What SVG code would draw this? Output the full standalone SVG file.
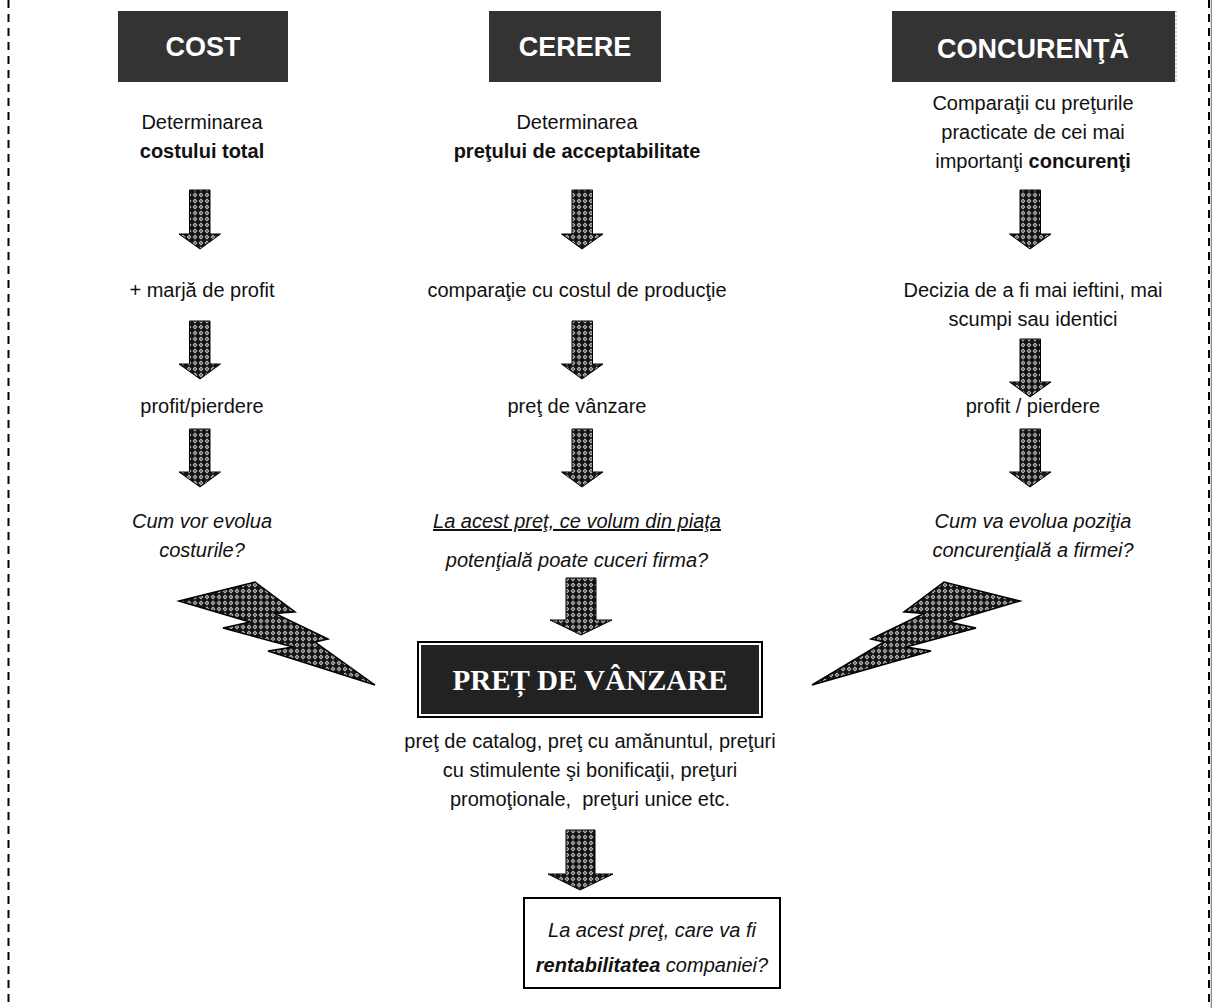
<svg xmlns="http://www.w3.org/2000/svg" width="1212" height="1008" viewBox="0 0 1212 1008">
<defs>
<pattern id="chk" width="6" height="6" patternUnits="userSpaceOnUse">
<rect width="6" height="6" fill="#151515"/>
<polygon points="3,0.6 5.4,3 3,5.4 0.6,3" fill="#c4c4c4"/>
<circle cx="3" cy="3" r="0.8" fill="#151515"/>
</pattern>
<style>
.t{font-family:"Liberation Sans",Arial,sans-serif;font-size:20px;fill:#111;text-anchor:middle}
.b{font-weight:bold}
.i{font-style:italic}
.h{font-family:"Liberation Sans",Arial,sans-serif;font-size:27px;font-weight:bold;fill:#fff;text-anchor:middle}
.hb{fill:#333}
.ar{fill:url(#chk);stroke:#000;stroke-width:1}
.bolt{fill:url(#chk);stroke:#000;stroke-width:1.5;stroke-linejoin:miter}
</style>
</defs>
<rect width="1212" height="1008" fill="#fff"/>
<g id="border">
<line x1="8.5" y1="0" x2="8.5" y2="1008" stroke="#000" stroke-width="2" stroke-dasharray="8 6"/>
<line x1="1209" y1="0" x2="1209" y2="1008" stroke="#000" stroke-width="2" stroke-dasharray="8 6"/>
<line x1="1211.5" y1="0" x2="1211.5" y2="1008" stroke="#888" stroke-width="1.5"/>
</g>
<g id="cost">
<rect class="hb" x="118" y="11" width="170" height="71"/>
<text class="h" x="203" y="56">COST</text>
</g>
<g id="cerere">
<rect class="hb" x="489" y="11" width="172" height="71"/>
<text class="h" x="575" y="56">CERERE</text>
</g>
<g id="concurenta">
<rect class="hb" x="892" y="11" width="283" height="71"/>
<line x1="1176" y1="11" x2="1176" y2="82" stroke="#999" stroke-width="1" stroke-dasharray="2 2"/>
<text class="h" x="1033" y="58">CONCURENŢĂ</text>
</g>
<g id="cost-texts">
<text class="t" x="202" y="129">Determinarea</text>
<text class="t b" x="202" y="158">costului total</text>
<text class="t" x="202" y="297">+ marjă de profit</text>
<text class="t" x="202" y="413">profit/pierdere</text>
<text class="t i" x="202" y="528">Cum vor evolua</text>
<text class="t i" x="202" y="557">costurile?</text>
</g>
<g id="cerere-texts">
<text class="t" x="577" y="129">Determinarea</text>
<text class="t b" x="577" y="158">preţului de acceptabilitate</text>
<text class="t" x="577" y="297">comparaţie cu costul de producţie</text>
<text class="t" x="577" y="413">preţ de vânzare</text>
<text class="t i" x="577" y="528" text-decoration="underline">La acest preţ, ce volum din piaţa</text>
<text class="t i" x="577" y="567">potenţială poate cuceri firma?</text>
</g>
<g id="concurenta-texts">
<text class="t" x="1033" y="110">Comparaţii cu preţurile</text>
<text class="t" x="1033" y="139">practicate de cei mai</text>
<text class="t" x="1033" y="168">importanţi <tspan class="b">concurenţi</tspan></text>
<text class="t" x="1033" y="297">Decizia de a fi mai ieftini, mai</text>
<text class="t" x="1033" y="326">scumpi sau identici</text>
<text class="t" x="1033" y="413">profit / pierdere</text>
<text class="t i" x="1033" y="528">Cum va evolua poziţia</text>
<text class="t i" x="1033" y="557">concurenţială a firmei?</text>
</g>
<g id="pret-vanzare">
<rect x="418" y="642" width="344" height="75" fill="#fff" stroke="#000" stroke-width="2"/>
<rect x="421" y="645" width="338" height="69" fill="#222"/>
<text x="590" y="690" font-family="'Liberation Serif','Times New Roman',serif" font-size="29" font-weight="bold" fill="#fff" text-anchor="middle">PREȚ DE VÂNZARE</text>
</g>
<g id="tipuri">
<text class="t" x="590" y="748">preţ de catalog, preţ cu amănuntul, preţuri</text>
<text class="t" x="590" y="777">cu stimulente şi bonificaţii, preţuri</text>
<text class="t" x="590" y="806" xml:space="preserve">promoţionale,  preţuri unice etc.</text>
</g>
<g id="rentabilitate">
<rect x="524" y="898" width="256" height="90" fill="#fff" stroke="#000" stroke-width="2"/>
<text class="t i" x="652" y="937">La acest preţ, care va fi</text>
<text class="t i" x="652" y="972"><tspan class="b">rentabilitatea</tspan> companiei?</text>
</g>
<g id="connectors">
<path class="ar" d="M189.5,190H210V234H220.5L200,249L179,234H189.5Z"/>
<path class="ar" d="M189.5,321H210V364H220.5L200,379L179,364H189.5Z"/>
<path class="ar" d="M189.5,429H210V472H220.5L200,487L179,472H189.5Z"/>
<path class="ar" d="M572,190H592.5V234H603L582,249L561.5,234H572Z"/>
<path class="ar" d="M572,321H592.5V364H603L582,379L561.5,364H572Z"/>
<path class="ar" d="M572,429H592.5V472H603L582,487L561.5,472H572Z"/>
<path class="ar" d="M1020,190H1040.5V234H1051L1030,249L1009.5,234H1020Z"/>
<path class="ar" d="M1020,339H1040.5V382H1051L1030,397L1009.5,382H1020Z"/>
<path class="ar" d="M1020,429H1040.5V472H1051L1030,487L1009.5,472H1020Z"/>
<path class="ar" d="M566,578H596V620H612L581,635L550,620H566Z"/>
<path class="ar" d="M566,830H595V874H613L580,890L548,874H566Z"/>
<polygon class="bolt" points="179,601 255,582 295,612 275,613.5 328,639 315,642 375,685 268,651 293,647 223,628 250,622"/>
<polygon class="bolt" points="1020,601 944,582 904,612 924,613.5 871,639 884,642 812,685 931,651 906,647 976,628 949,622"/>
</g>
</svg>
